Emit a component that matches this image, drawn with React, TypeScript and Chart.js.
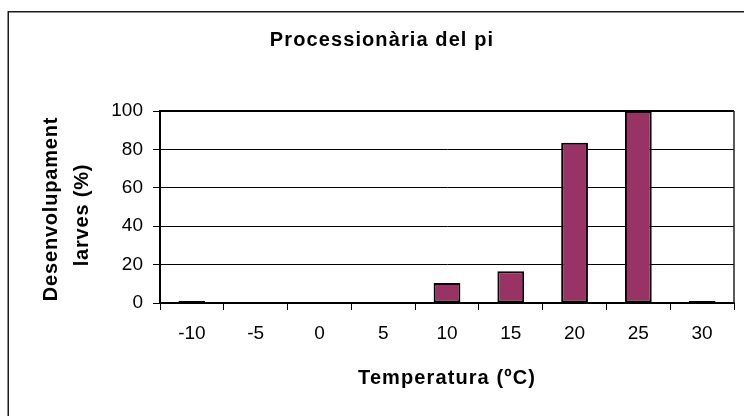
import { useEffect, useRef } from "react";
import { Chart, registerables } from "chart.js";

Chart.register(...registerables);

const categories = ["-10", "-5", "0", "5", "10", "15", "20", "25", "30"];
const development = [1, 0, 0, 0, 10.4, 16.5, 83.5, 100, 1];
const yTicks = [0, 20, 40, 60, 80, 100];
const chartTitle = "Processionària del pi";
const xTitle = "Temperatura (ºC)";
const yTitle = ["Desenvolupament", "larves (%)"];

const FONT = '"Liberation Sans", Arial, Helvetica, sans-serif';

const decor = {
  id: "decor",
  beforeDraw(chart: any) {
    const ctx = chart.ctx;
    ctx.save();
    ctx.fillStyle = "#ffffff";
    ctx.fillRect(0, 0, chart.width, chart.height);
    ctx.strokeStyle = "#1a1a1a";
    ctx.lineWidth = 1.5;
    ctx.beginPath();
    ctx.moveTo(8.25, chart.height + 5);
    ctx.lineTo(8.25, 11.75);
    ctx.lineTo(chart.width + 5, 11.75);
    ctx.stroke();
    ctx.restore();
  },
  afterDraw(chart: any) {
    const ctx = chart.ctx;
    const a = chart.chartArea;
    ctx.save();
    ctx.strokeStyle = "#000";
    ctx.lineWidth = 2;
    ctx.beginPath();
    ctx.moveTo(a.left, a.top);
    ctx.lineTo(a.right, a.top);
    ctx.stroke();
    ctx.lineWidth = 1.5;
    ctx.strokeStyle = "#222";
    ctx.beginPath();
    ctx.moveTo(a.right, a.top);
    ctx.lineTo(a.right, a.bottom);
    ctx.stroke();

    ctx.fillStyle = "#000";
    ctx.font = `bold 20px ${FONT}`;
    (ctx as any).letterSpacing = "1.1px";
    ctx.textAlign = "center";
    ctx.textBaseline = "alphabetic";
    ctx.fillText(chartTitle, 382, 45.5);
    ctx.fillText(xTitle, (a.left + a.right) / 2, 384);

    (ctx as any).letterSpacing = "0.8px";
    ctx.save();
    ctx.translate(56.7, 209);
    ctx.rotate(-Math.PI / 2);
    ctx.fillText(yTitle[0], 0, 0);
    ctx.restore();
    ctx.save();
    ctx.translate(88.3, 215);
    ctx.rotate(-Math.PI / 2);
    ctx.fillText(yTitle[1], 0, 0);
    ctx.restore();
    ctx.restore();
  },
};

export default function App() {
  const ref = useRef<HTMLCanvasElement | null>(null);
  useEffect(() => {
    if (!ref.current) return;
    const chart = new Chart(ref.current, {
      type: "bar",
      data: {
        labels: categories,
        datasets: [
          {
            data: development,
            backgroundColor: "#993366",
            borderColor: "#000000",
            borderWidth: 2,
            borderSkipped: false,
            barPercentage: 0.42,
            categoryPercentage: 1,
          },
        ],
      },
      options: {
        responsive: false,
        animation: false,
        devicePixelRatio: 1,
        layout: { padding: { left: 0, right: 10, top: 111, bottom: 0 } },
        plugins: {
          legend: { display: false },
          tooltip: { enabled: false },
          title: { display: false },
        },
        scales: {
          x: {
            type: "category",
            offset: true,
            grid: {
              offset: true,
              drawOnChartArea: false,
              drawTicks: true,
              tickLength: 7,
              color: "#000",
              lineWidth: 1,
            },
            border: { display: true, color: "#000", width: 2 },
            ticks: {
              color: "#000",
              font: { family: FONT, size: 19 },
              padding: 12,
              maxRotation: 0,
              autoSkip: false,
            },
            afterFit(scale: any) {
              scale.height = 113;
            },
          },
          y: {
            min: 0,
            max: 100,
            afterBuildTicks(scale: any) {
              scale.ticks = yTicks.map((v) => ({ value: v }));
            },
            grid: {
              color: "#000",
              lineWidth: 1,
              drawTicks: true,
              tickLength: 7,
            },
            border: { display: true, color: "#000", width: 2 },
            ticks: {
              color: "#000",
              font: { family: FONT, size: 19 },
              padding: 10,
            },
            afterFit(scale: any) {
              scale.width = 160;
            },
          },
        },
      },
      plugins: [decor],
    });
    return () => chart.destroy();
  }, []);

  return (
    <div style={{ position: "fixed", left: 0, top: 0, width: 744, height: 416, overflow: "hidden", background: "#fff" }}>
      <canvas ref={ref} width={744} height={416} style={{ display: "block", width: 744, height: 416 }} />
    </div>
  );
}
